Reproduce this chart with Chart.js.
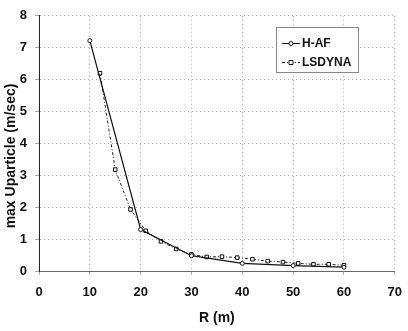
<!DOCTYPE html>
<html><head><meta charset="utf-8">
<script src="https://cdn.jsdelivr.net/npm/chart.js@4/dist/chart.umd.min.js"></script>
<style>html,body{margin:0;padding:0;background:#fff;overflow:hidden;width:408px;height:331px}
canvas{position:absolute;left:0;top:0}</style>
</head><body>
<canvas id="c" width="412" height="331"></canvas>
<script>
const hafR = [10, 20, 30, 40, 50, 60];
const hafU = [7.22, 1.3, 0.48, 0.24, 0.17, 0.12];
const lsR = [12, 15, 18, 21, 24, 27, 30, 33, 36, 39, 42, 45, 48, 51, 54, 57, 60];
const lsU = [6.2, 3.18, 1.93, 1.26, 0.93, 0.69, 0.52, 0.44, 0.45, 0.42, 0.37, 0.31, 0.28, 0.24, 0.21, 0.21, 0.18];
const seriesNames = ['H-AF', 'LSDYNA'];
const xTitle = 'R (m)';
const yTitle = 'max Uparticle (m/sec)';

const FONT = '"Liberation Sans",Arial,sans-serif';

const toPts = (xs, ys) => xs.map((x, i) => ({x, y: ys[i]}));

const axisLine = {
  id: 'axisLine',
  beforeDatasetsDraw(chart) {
    const {ctx, chartArea} = chart;
    ctx.save();
    ctx.strokeStyle = '#222';
    ctx.lineWidth = 1;
    ctx.setLineDash([]);
    ctx.beginPath();
    const x = Math.round(chartArea.left) + 0.5;
    ctx.moveTo(x, chartArea.top);
    ctx.lineTo(x, chartArea.bottom);
    ctx.stroke();
    ctx.restore();
  }
};

const customText = {
  id: 'customText',
  afterDraw(chart) {
    const ctx = chart.ctx;
    ctx.save();
    ctx.fillStyle = '#111';
    ctx.font = 'bold 14px ' + FONT;
    ctx.textAlign = 'center';
    ctx.textBaseline = 'middle';
    ctx.translate(11, 156);
    ctx.rotate(-Math.PI / 2);
    ctx.fillText(yTitle, 0, 0);
    ctx.restore();
    ctx.save();
    const bx = 276, by = 27, bw = 82, bh = 45;
    ctx.fillStyle = '#fff';
    ctx.fillRect(bx, by, bw, bh);
    ctx.strokeStyle = '#888';
    ctx.lineWidth = 1;
    ctx.strokeRect(bx + 0.5, by + 0.5, bw, bh);
    const rows = [{y: 43, dash: [], marker: 'circle'}, {y: 62, dash: [3, 2, 1, 2], marker: 'rect'}];
    rows.forEach((r, i) => {
      ctx.strokeStyle = '#111';
      ctx.setLineDash(r.dash);
      ctx.beginPath();
      ctx.moveTo(282, r.y + 0.5);
      ctx.lineTo(300, r.y + 0.5);
      ctx.stroke();
      ctx.setLineDash([]);
      ctx.fillStyle = '#fff';
      ctx.beginPath();
      if (r.marker === 'circle') ctx.arc(291, r.y + 0.5, 2, 0, Math.PI * 2);
      else ctx.rect(289, r.y - 1.5, 4, 4);
      ctx.fill();
      ctx.stroke();
      ctx.fillStyle = '#111';
      ctx.font = 'bold 12px ' + FONT;
      ctx.textAlign = 'left';
      ctx.textBaseline = 'middle';
      ctx.fillText(seriesNames[i], 302, r.y + 1);
    });
    ctx.restore();
  }
};

new Chart(document.getElementById('c'), {
  type: 'scatter',
  data: {
    datasets: [
      {
        label: seriesNames[0],
        data: toPts(hafR, hafU),
        showLine: true,
        borderColor: '#111',
        borderWidth: 1.2,
        pointStyle: 'circle',
        pointRadius: 2,
        pointBackgroundColor: '#fff',
        pointBorderColor: '#111',
        pointBorderWidth: 1
      },
      {
        label: seriesNames[1],
        data: toPts(lsR, lsU),
        showLine: true,
        borderColor: '#222',
        borderWidth: 1,
        borderDash: [3, 2, 1, 2],
        pointStyle: 'rect',
        pointRadius: 2.5,
        pointBackgroundColor: '#fff',
        pointBorderColor: '#111',
        pointBorderWidth: 1
      }
    ]
  },
  options: {
    responsive: false,
    animation: false,
    layout: {padding: {top: 10, left: 0, right: 0, bottom: 0}},
    plugins: {legend: {display: false}, tooltip: {enabled: false}},
    scales: {
      x: {
        type: 'linear', min: 0, max: 70,
        ticks: {stepSize: 10, color: '#111', padding: 10, font: {family: FONT, size: 13, weight: 'bold'}},
        grid: {color: '#aaa', tickLength: 4},
        border: {display: true, color: '#666', dash: [1, 3]},
        title: {display: true, text: xTitle, color: '#111', padding: {top: 4}, font: {family: FONT, size: 14, weight: 'bold'}},
        afterFit: s => { s.height = 60; }
      },
      y: {
        type: 'linear', min: 0, max: 8,
        ticks: {stepSize: 1, color: '#111', padding: 8, font: {family: FONT, size: 13, weight: 'bold'}},
        grid: {color: '#aaa', tickLength: 4},
        border: {display: true, color: '#222', width: 1, dash: [1, 3]},
        afterFit: s => { s.width = 39; }
      }
    }
  },
  plugins: [axisLine, customText]
});
</script>
</body></html>
